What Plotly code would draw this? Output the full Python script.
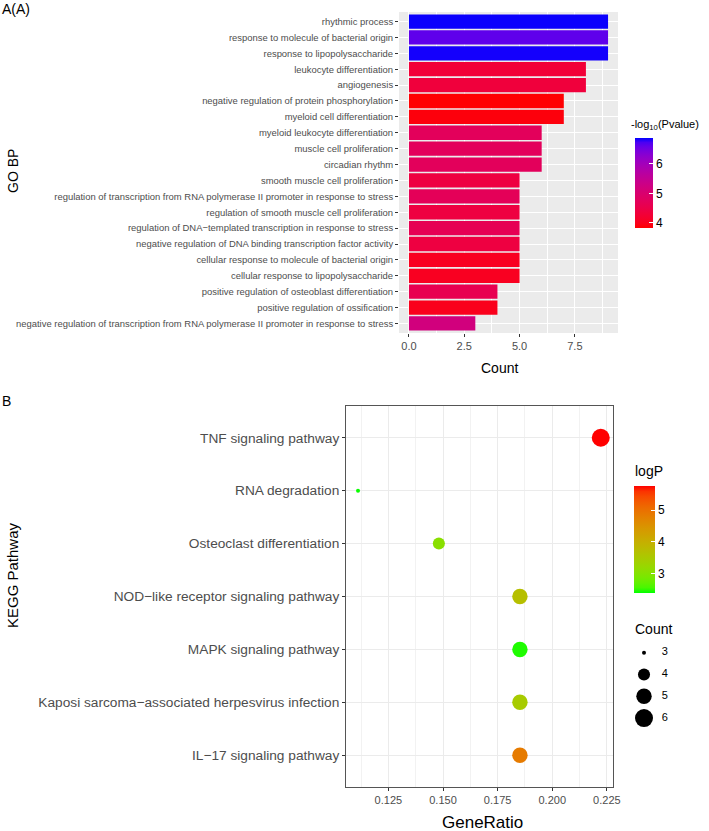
import math
import plotly.graph_objects as go

W, H = 709, 831
XS = 701 / 709  # observed horizontal rendering factor, compensated below
FONT = "Liberation Sans, Arial, sans-serif"

# ---------------- data ----------------
go_terms = [
    "rhythmic process",
    "response to molecule of bacterial origin",
    "response to lipopolysaccharide",
    "leukocyte differentiation",
    "angiogenesis",
    "negative regulation of protein phosphorylation",
    "myeloid cell differentiation",
    "myeloid leukocyte differentiation",
    "muscle cell proliferation",
    "circadian rhythm",
    "smooth muscle cell proliferation",
    "regulation of transcription from RNA polymerase II promoter in response to stress",
    "regulation of smooth muscle cell proliferation",
    "regulation of DNA\u2212templated transcription in response to stress",
    "negative regulation of DNA binding transcription factor activity",
    "cellular response to molecule of bacterial origin",
    "cellular response to lipopolysaccharide",
    "positive regulation of osteoblast differentiation",
    "positive regulation of ossification",
    "negative regulation of transcription from RNA polymerase II promoter in response to stress",
]
go_counts = [9, 9, 9, 8, 8, 7, 7, 6, 6, 6, 5, 5, 5, 5, 5, 5, 5, 4, 4, 3]
go_neglogp = [6.86, 6.62, 6.84, 4.3, 4.35, 3.84, 3.9, 4.75, 4.75, 4.75,
              4.4, 4.7, 4.4, 4.65, 4.4, 4.05, 4.05, 4.6, 4.0, 5.2]
go_cmin, go_cmax = 3.83, 6.88
go_xticks = [0, 2.5, 5, 7.5]

kegg_terms = [
    "TNF signaling pathway",
    "RNA degradation",
    "Osteoclast differentiation",
    "NOD\u2212like receptor signaling pathway",
    "MAPK signaling pathway",
    "Kaposi sarcoma\u2212associated herpesvirus infection",
    "IL\u221217 signaling pathway",
]
kegg_ratio = [0.2222, 0.1111, 0.1481, 0.1852, 0.1852, 0.1852, 0.1852]
kegg_count = [6, 3, 4, 5, 5, 5, 5]
kegg_logp = [5.76, 2.40, 3.05, 3.70, 2.45, 3.45, 4.85]
kegg_cmin, kegg_cmax = 2.38, 5.76
kegg_xticks = [0.125, 0.150, 0.175, 0.200, 0.225]
size_legend = [3, 4, 5, 6]


# ---------------- Lab gradient (like ggplot scale_colour_gradient) ----------------
def _lin(c):
    c = c / 255.0
    return c / 12.92 if c <= 0.04045 else ((c + 0.055) / 1.055) ** 2.4

def _delin(c):
    c = 12.92 * c if c <= 0.0031308 else 1.055 * c ** (1 / 2.4) - 0.055
    return max(0, min(255, round(c * 255)))

def hex2lab(h):
    r, g, b = [_lin(int(h[i:i + 2], 16)) for i in (1, 3, 5)]
    x = (0.4124 * r + 0.3576 * g + 0.1805 * b) / 0.95047
    y = (0.2126 * r + 0.7152 * g + 0.0722 * b) / 1.0
    z = (0.0193 * r + 0.1192 * g + 0.9505 * b) / 1.08883
    f = lambda t: t ** (1 / 3) if t > 0.008856 else 7.787 * t + 16 / 116
    fx, fy, fz = f(x), f(y), f(z)
    return (116 * fy - 16, 500 * (fx - fy), 200 * (fy - fz))

def lab2hex(L, a, b):
    fy = (L + 16) / 116
    fx = fy + a / 500
    fz = fy - b / 200
    fi = lambda t: t ** 3 if t ** 3 > 0.008856 else (t - 16 / 116) / 7.787
    x, y, z = fi(fx) * 0.95047, fi(fy), fi(fz) * 1.08883
    r = 3.2406 * x - 1.5372 * y - 0.4986 * z
    g = -0.9689 * x + 1.8758 * y + 0.0415 * z
    bb = 0.0557 * x - 0.2040 * y + 1.0570 * z
    return "#%02X%02X%02X" % (_delin(max(r, 0)), _delin(max(g, 0)), _delin(max(bb, 0)))

def lab_scale(low, high, n=21):
    l1, l2 = hex2lab(low), hex2lab(high)
    out = []
    for i in range(n):
        t = i / (n - 1)
        out.append([t, lab2hex(*[l1[k] + (l2[k] - l1[k]) * t for k in range(3)])])
    return out

scale_top = lab_scale("#FF0000", "#0000FF")
scale_bot = lab_scale("#00FF00", "#FF0000")

def px_x(p):
    return min(p / (W * XS), 1.0)

def px_y(p):
    return 1 - p / H

# panel geometry (pixels)
top_l, top_r, top_t, top_b = 399, 618, 12, 333
bot_l, bot_r, bot_t, bot_b = 346, 613, 406, 787

# size mapping (area palette like ggplot scale_size)
smin, smax = min(size_legend), max(size_legend)
def diam(c):
    return 4 + 14 * math.sqrt((c - smin) / (smax - smin))

fig = go.Figure()

fig.add_trace(go.Bar(
    x=go_counts, y=go_terms, orientation="h", width=0.9,
    marker=dict(color=go_neglogp, coloraxis="coloraxis", line=dict(width=0)),
    xaxis="x", yaxis="y", showlegend=False,
))

fig.add_trace(go.Scatter(
    x=kegg_ratio, y=kegg_terms, mode="markers",
    marker=dict(color=kegg_logp, coloraxis="coloraxis2",
                size=[diam(c) for c in kegg_count], line=dict(width=0), opacity=1),
    xaxis="x2", yaxis="y2", showlegend=False,
))

# size legend
fig.add_trace(go.Scatter(
    x=[0] * len(size_legend), y=list(range(len(size_legend))), mode="markers",
    marker=dict(color="black", size=[diam(c) for c in size_legend], line=dict(width=0),
                opacity=1),
    xaxis="x3", yaxis="y3", showlegend=False, hoverinfo="skip",
))
fig.add_trace(go.Scatter(
    x=[0.85] * len(size_legend), y=list(range(len(size_legend))), mode="text",
    text=[str(c) for c in size_legend], textposition="middle right",
    textfont=dict(family=FONT, size=11, color="black"),
    xaxis="x3", yaxis="y3", showlegend=False, hoverinfo="skip",
))

fig.update_layout(
    width=W, height=H, autosize=False, margin=dict(l=0, r=0, t=0, b=0),
    paper_bgcolor="white", plot_bgcolor="white",
    font=dict(family=FONT, color="#4D4D4D"),
    showlegend=False,
    xaxis=dict(
        domain=[px_x(top_l), px_x(top_r)], anchor="y",
        range=[-0.45, 9.45], tickvals=go_xticks, tickformat=".1f",
        showgrid=True, gridcolor="white", gridwidth=1.1,
        minor=dict(showgrid=True, dtick=1.25, tick0=0, gridcolor="white", gridwidth=0.5),
        ticks="outside", ticklen=3, tickcolor="#333333",
        tickfont=dict(size=11, color="#4D4D4D"),
        zeroline=False, showline=False,
    ),
    yaxis=dict(
        domain=[px_y(top_b), px_y(top_t)], anchor="x",
        categoryorder="array", categoryarray=go_terms,
        range=[len(go_terms) - 0.4, -0.6],
        showgrid=True, gridcolor="white", gridwidth=1.1,
        ticks="outside", ticklen=3, tickcolor="#333333",
        tickfont=dict(size=9.45, color="#4D4D4D"),
        zeroline=False, showline=False,
    ),
    xaxis2=dict(
        domain=[px_x(bot_l), px_x(bot_r)], anchor="y2",
        range=[0.1056, 0.2278], tickvals=kegg_xticks, tickformat=".3f",
        showgrid=True, gridcolor="#EBEBEB", gridwidth=1.1,
        minor=dict(showgrid=True, dtick=0.0125, tick0=0.1125, gridcolor="#F2F2F2", gridwidth=0.6),
        ticks="outside", ticklen=3, tickcolor="#333333",
        tickfont=dict(size=11, color="#4D4D4D"),
        zeroline=False, showline=True, linecolor="#555555", linewidth=1, mirror=True,
    ),
    yaxis2=dict(
        domain=[px_y(bot_b), px_y(bot_t)], anchor="x2",
        categoryorder="array", categoryarray=kegg_terms,
        range=[len(kegg_terms) - 0.4, -0.6],
        showgrid=True, gridcolor="#EBEBEB", gridwidth=1.1,
        ticks="outside", ticklen=3, tickcolor="#333333",
        tickfont=dict(size=13.7, color="#4D4D4D"),
        zeroline=False, showline=True, linecolor="#555555", linewidth=1, mirror=True,
    ),
    xaxis3=dict(domain=[px_x(634), px_x(700)], anchor="y3", range=[-0.476, 2.667],
                visible=False, fixedrange=True),
    yaxis3=dict(domain=[px_y(730), px_y(640)], anchor="x3", range=[3.546, -0.583],
                visible=False, fixedrange=True),
    coloraxis=dict(
        colorscale=scale_top, cmin=go_cmin, cmax=go_cmax,
        colorbar=dict(
            x=px_x(635), xanchor="left", y=px_y(138), yanchor="top",
            lenmode="pixels", len=90, thickness=18, xpad=0, ypad=0,
            outlinewidth=0, tickvals=[4, 5, 6], ticks="inside", ticklen=4,
            tickcolor="white", tickfont=dict(family=FONT, size=12, color="black"),
        ),
    ),
    coloraxis2=dict(
        colorscale=scale_bot, cmin=kegg_cmin, cmax=kegg_cmax,
        colorbar=dict(
            x=px_x(634), xanchor="left", y=px_y(486), yanchor="top",
            lenmode="pixels", len=107, thickness=21, xpad=0, ypad=0,
            outlinewidth=0, tickvals=[3, 4, 5], ticks="inside", ticklen=4,
            tickcolor="white", tickfont=dict(family=FONT, size=12, color="black"),
        ),
    ),
)

# the grey panel background for the bar chart
fig.add_shape(type="rect", xref="paper", yref="paper",
              x0=px_x(top_l), x1=px_x(top_r), y0=px_y(top_b), y1=px_y(top_t),
              fillcolor="#EBEBEB", line=dict(width=0), layer="below")

def ann(text, x, y, size, xanchor="center", yanchor="middle", angle=0, color="black"):
    fig.add_annotation(text=text, xref="paper", yref="paper", x=px_x(x), y=px_y(y),
                       xanchor=xanchor, yanchor=yanchor, textangle=angle, showarrow=False,
                       font=dict(family=FONT, size=size, color=color))

ann("A(A)", 0, 9, 14, xanchor="left")
ann("B", 0, 401, 14, xanchor="left")
ann("GO BP", 13, 171, 14, angle=-90)
ann("Count", 499, 368, 14)
ann("KEGG Pathway", 12, 575, 15, angle=-90)
ann("GeneRatio", 482, 822, 17)
ann("-log<sub>10</sub>(Pvalue)", 708, 125, 11, xanchor="right")
ann("logP", 633, 471, 14, xanchor="left")
ann("Count", 633, 629, 14, xanchor="left")

fig.write_html(
    "out.html",
    config={"displayModeBar": False, "responsive": False},
    post_script="document.body.style.margin='0px';document.body.style.overflow='hidden';",
)
